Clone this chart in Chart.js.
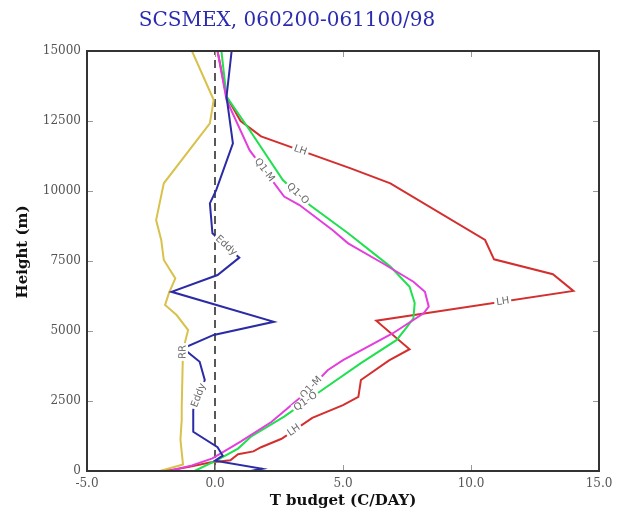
<!DOCTYPE html>
<html><head><meta charset="utf-8">
<script src="https://cdn.jsdelivr.net/npm/chart.js@4.4.1/dist/chart.umd.min.js"></script>
<style>html,body{margin:0;padding:0;background:#fff;} canvas{display:block;}</style>
</head><body>
<canvas id="c" width="621" height="512"></canvas>
<script>
// ---- data (T budget in C/DAY vs height in m) ----
const titleText = 'SCSMEX, 060200-061100/98';
const xTitle = 'T budget (C/DAY)';
const yTitle = 'Height (m)';
const xTicks = [-5, 0, 5, 10, 15];
const yTicks = [0, 2500, 5000, 7500, 10000, 12500, 15000];

const lhHeight = [0,150,300,380,600,700,850,1150,1900,2350,2650,3250,3950,4350,5370,6430,7030,7560,8250,10275,10810,11950,12500,13370,15000];
const lhValue  = [-1.9,-1.0,-0.2,0.6,0.9,1.5,1.8,2.6,3.8,5.0,5.6,5.7,6.8,7.6,6.3,14.0,13.2,10.9,10.55,6.85,5.3,1.8,1.0,0.45,0.1];

const q1oHeight = [0,400,800,1225,1940,2900,3850,4680,5150,5450,6000,6580,7300,8490,9500,10390,12180,13370,15000];
const q1oValue  = [-0.8,0.1,0.9,1.4,2.7,4.2,5.7,7.1,7.5,7.75,7.8,7.6,6.85,5.2,3.7,2.65,1.35,0.45,0.25];

const q1mHeight = [0,200,450,1050,1750,2830,3600,3960,4920,5630,5870,6400,6760,7420,8130,8600,9500,9800,11460,13250,15000];
const q1mValue  = [-1.8,-0.9,-0.1,1.0,2.2,3.6,4.4,5.0,6.95,8.15,8.35,8.2,7.75,6.55,5.2,4.6,3.3,2.7,1.35,0.45,0.1];

const eddyHeight = [0,80,370,550,850,1400,2180,3250,3900,4380,4860,5330,6400,7000,7620,8490,9560,10040,11700,13370,15000];
const eddyValue  = [1.4,1.85,0.0,0.3,0.1,-0.85,-0.85,-0.4,-0.6,-1.25,-0.05,2.3,-1.7,0.1,0.95,-0.1,-0.2,0.05,0.7,0.45,0.65];

const rrHeight = [0,230,1125,1830,2300,4320,5035,5570,5930,6350,6880,7535,8250,8960,10275,12420,13250,15000];
const rrValue  = [-2.15,-1.25,-1.35,-1.3,-1.3,-1.25,-1.05,-1.5,-1.95,-1.8,-1.55,-2.0,-2.1,-2.3,-2.0,-0.2,-0.05,-0.9];

const zeroHeight = [0, 15000];
const zeroValue = [0, 0];

// inline contour-style labels: [series, height at which label sits]
const lineLabels = [
  ['LH', 11450], ['LH', 6050], ['LH', 1450],
  ['Q1-M', 10750], ['Q1-O', 9900], ['Q1-M', 2980], ['Q1-O', 2480],
  ['Eddy', 8050], ['Eddy', 2700], ['RR', 4250]
];

function pts(h, v) { return h.map((y, i) => ({x: v[i], y: y})); }
function series(label, h, v, color, extra) {
  return Object.assign({label, data: pts(h, v), showLine: true, borderColor: color,
    backgroundColor: color, borderWidth: 2, pointRadius: 0, tension: 0, fill: false}, extra || {});
}

const datasets = [
  series('Eddy', eddyHeight, eddyValue, '#2b2ba6'),
  series('Q1-M', q1mHeight, q1mValue, '#e23fdc'),
  series('Q1-O', q1oHeight, q1oValue, '#1fe04e'),
  series('LH', lhHeight, lhValue, '#d42f2f'),
  series('RR', rrHeight, rrValue, '#d8c24c'),
  series('zero', zeroHeight, zeroValue, '#222', {borderDash: [8, 5], borderWidth: 1.5})
];

const overlay = {
  id: 'overlay',
  afterDatasetsDraw(chart) {
    const ctx = chart.ctx;
    const xs = chart.scales.x, ys = chart.scales.y;
    const ca = chart.chartArea;
    // inline labels
    ctx.save();
    ctx.font = '10px "DejaVu Sans"';
    lineLabels.forEach(([name, h]) => {
      const ds = chart.data.datasets.find(d => d.label === name);
      const d = ds.data;
      for (let i = 0; i < d.length - 1; i++) {
        if (h >= d[i].y && h <= d[i + 1].y) {
          const f = (h - d[i].y) / (d[i + 1].y - d[i].y);
          const v = d[i].x + f * (d[i + 1].x - d[i].x);
          const px = xs.getPixelForValue(v), py = ys.getPixelForValue(h);
          const dx = xs.getPixelForValue(d[i + 1].x) - xs.getPixelForValue(d[i].x);
          const dy = ys.getPixelForValue(d[i + 1].y) - ys.getPixelForValue(d[i].y);
          let a = Math.atan2(dy, dx);
          if (a > Math.PI / 2) a -= Math.PI;
          if (a < -Math.PI / 2) a += Math.PI;
          const w = ctx.measureText(name).width;
          ctx.save();
          ctx.translate(px, py);
          ctx.rotate(a);
          ctx.fillStyle = '#fff';
          ctx.fillRect(-w / 2 - 2, -5, w + 4, 10);
          ctx.fillStyle = '#6a6a6a';
          ctx.textAlign = 'center';
          ctx.textBaseline = 'middle';
          ctx.fillText(name, 0, 0);
          ctx.restore();
          break;
        }
      }
    });
    ctx.restore();
    // inward tick marks
    ctx.save();
    ctx.strokeStyle = '#999';
    ctx.lineWidth = 1;
    ctx.beginPath();
    ys.ticks.forEach(t => {
      if (t.value <= ys.min || t.value >= ys.max) return;
      const y = Math.round(ys.getPixelForValue(t.value)) + 0.5;
      ctx.moveTo(ca.left, y); ctx.lineTo(ca.left + 6, y);
      ctx.moveTo(ca.right, y); ctx.lineTo(ca.right - 6, y);
    });
    xs.ticks.forEach(t => {
      if (t.value <= xs.min || t.value >= xs.max) return;
      const x = Math.round(xs.getPixelForValue(t.value)) + 0.5;
      ctx.moveTo(x, ca.top); ctx.lineTo(x, ca.top + 6);
      ctx.moveTo(x, ca.bottom); ctx.lineTo(x, ca.bottom - 6);
    });
    ctx.stroke();
    // frame
    ctx.strokeStyle = '#333';
    ctx.lineWidth = 2;
    ctx.strokeRect(ca.left, ca.top, ca.right - ca.left, ca.bottom - ca.top);
    ctx.restore();
  },
  afterDraw(chart) {
    const ctx = chart.ctx;
    const ca = chart.chartArea;
    ctx.save();
    ctx.textAlign = 'center';
    ctx.textBaseline = 'middle';
    ctx.fillStyle = '#2b2bb0';
    ctx.font = '20px "DejaVu Serif"';
    ctx.fillText(titleText, 287, 21);
    ctx.fillStyle = '#111';
    ctx.font = 'bold 15px "DejaVu Serif"';
    ctx.fillText(xTitle, (ca.left + ca.right) / 2, 501);
    ctx.translate(23, 252);
    ctx.rotate(-Math.PI / 2);
    ctx.fillText(yTitle, 0, 0);
    ctx.restore();
  }
};

const tickFont = {family: '"DejaVu Serif"', size: 12};
new Chart(document.getElementById('c'), {
  type: 'scatter',
  data: {datasets},
  options: {
    responsive: false,
    animation: false,
    layout: {padding: {top: 51, right: 22, left: 0, bottom: 0}},
    plugins: {legend: {display: false}, tooltip: {enabled: false}, title: {display: false}},
    scales: {
      x: {
        type: 'linear', min: xTicks[0], max: xTicks[xTicks.length - 1],
        afterBuildTicks(s) { s.ticks = xTicks.map(v => ({value: v})); },
        ticks: {callback: v => Number(v).toFixed(1), color: '#555', font: tickFont, padding: 6, maxRotation: 0, autoSkip: false},
        grid: {display: false, drawTicks: false},
        border: {display: false},
        afterFit(s) { s.height = 41; }
      },
      y: {
        type: 'linear', min: yTicks[0], max: yTicks[yTicks.length - 1],
        afterBuildTicks(s) { s.ticks = yTicks.map(v => ({value: v})); },
        ticks: {callback: v => String(v), color: '#555', font: tickFont, padding: 6, autoSkip: false},
        grid: {display: false, drawTicks: false},
        border: {display: false},
        afterFit(s) { s.height; s.width = 87; }
      }
    }
  },
  plugins: [overlay]
});
</script>
</body></html>
